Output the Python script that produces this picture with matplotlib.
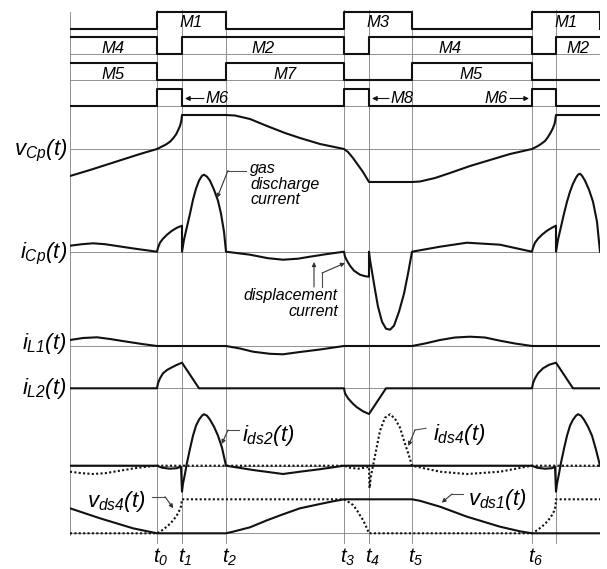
import matplotlib.pyplot as plt
import numpy as np

plt.rcParams['font.family'] = ['Liberation Sans', 'DejaVu Sans']
plt.rcParams['font.style'] = 'italic'
plt.rcParams['mathtext.fontset'] = 'custom'
plt.rcParams['mathtext.it'] = 'Liberation Sans:italic'
plt.rcParams['mathtext.rm'] = 'Liberation Sans:italic'

# switching instants t0..t7 and end of the period (time units)
t_ev = [87, 112, 156, 274, 299, 342, 462, 486]
t_end = 530
t_names = ["t_0", "t_1", "t_2", "t_3", "t_4", "t_5", "t_6", None]

# gate signals: switching times and on/off states (steps-post)
g1_t = [0, 87, 156, 274, 342, 462, 530]
g1_s = [0, 1, 0, 1, 0, 1, 0]
g2_t = [0, 87, 112, 274, 299, 462, 486, 530]
g2_s = [1, 0, 1, 0, 1, 0, 1, 1]
g3_t = [0, 87, 156, 274, 342, 462, 530]
g3_s = [1, 0, 1, 0, 1, 0, 0]
g4_t = [0, 87, 112, 274, 299, 462, 486, 530]
g4_s = [0, 1, 0, 1, 0, 1, 0, 0]

# waveforms as (time, value)
vcp = [(0, -27), (20, -21), (45, -13), (70, -5), (87, 0), (92, 2.5), (96, 4.5),
       (100, 7.3), (103, 10.5), (106, 14.5), (108, 18.5), (110, 23), (111.3, 28),
       (112, 34), (156, 34), (165, 33.5), (180, 30), (197, 23), (215, 16),
       (230, 11), (250, 5), (274, 0), (278, -3), (283, -9), (288, -16),
       (293, -23), (299, -33), (342, -33), (350, -32.5), (365, -29), (380, -24),
       (400, -17), (420, -11), (440, -5), (462, 0), (467, 2.5), (471, 5),
       (475, 8), (478, 12), (481, 17), (483, 21), (484.8, 26), (486, 34), (530, 34)]
icp = [(0, 6), (12, 7.5), (23, 8.4), (35, 7.5), (47, 5.7), (65, 3), (87, 0),
       (88, 4), (90, 9), (93, 13), (97, 17), (102, 21), (107, 24), (112, 26),
       (112, 0), (114, 12), (117, 25), (120, 38), (123, 52), (126, 63), (129, 71),
       (132, 76), (134, 77), (137, 75), (140, 71), (144, 62), (148, 51), (151, 38),
       (154, 20), (156, 0), (180, -3), (198, -6.5), (213, -8), (228, -7),
       (240, -5), (256, -2.5), (274, 0), (275, -5), (277, -9), (280, -14),
       (284, -19), (290, -23), (295, -24.5), (299, -25), (299, 0), (300, -8),
       (302, -20), (305, -38), (308, -55), (312, -70), (316, -77), (320, -78),
       (324, -74), (329, -60), (334, -42), (338, -22), (342, 0), (370, 5),
       (397, 9), (430, 7), (462, 0), (463, 4), (465, 9), (468, 13), (472, 17),
       (477, 21), (482, 24), (486, 26), (486, 0), (488, 12), (491, 25), (494, 38),
       (497, 50), (500, 60), (503, 68), (506, 74), (508, 77), (510, 78),
       (512, 76), (515, 71), (519, 62), (523, 50), (527, 30), (530, 0)]
il1 = [(0, 6), (13, 8), (27, 8.7), (40, 7), (57, 4.3), (72, 2), (87, 0), (156, 0),
       (170, -2.5), (183, -5.7), (200, -7.8), (213, -8.3), (230, -6), (250, -3.5),
       (274, 0), (342, 0), (355, 2.5), (370, 6), (385, 8.5), (400, 9.3),
       (415, 8.5), (430, 5.3), (445, 2.5), (462, 0), (530, 0)]
il2 = [(0, 0), (87, 0), (88, 5), (90, 10), (93, 15), (97, 18.3), (102, 21),
       (107, 23.5), (112, 25.6), (129, 0), (274, 0), (275, -5), (278, -10),
       (283, -15.5), (287, -19), (293, -23), (299, -25.7), (316, 0), (462, 0),
       (463, 5), (465, 10), (468, 15), (473, 20), (479, 23.5), (486, 25.6),
       (503, 0), (530, 0)]
ids2 = [(0, 0), (87, 0), (92, -2), (100, -3), (107, -2.5), (111, -1), (112, -26),
        (113, -18), (115, -8), (117, 3), (120, 17), (123, 30), (126, 40),
        (129, 46), (132, 50), (134, 51.5), (137, 50), (140, 46), (144, 39),
        (148, 30), (152, 18), (156, 0), (183, -4.3), (213, -8.3), (230, -6),
        (250, -3.5), (274, 0), (462, 0), (467, -2), (475, -3), (482, -2.5),
        (485, -1), (486, -26), (487, -18), (489, -8), (491, 3), (494, 17),
        (497, 30), (500, 40), (503, 46), (506, 50), (508, 51.5), (511, 50),
        (514, 46), (518, 39), (522, 30), (526, 16), (530, 0)]
ids4 = [(0, -6), (12, -7.5), (23, -8.3), (35, -7.5), (50, -5), (65, -2.5),
        (77, -1), (87, 0), (274, 0), (280, -2), (288, -3), (295, -2), (299, -1),
        (299.5, -22.4), (301, -10), (303, 0), (306, 15), (310, 35), (315, 48),
        (320, 51.4), (325, 47), (330, 38), (335, 22), (339, 10), (342, 0),
        (370, -6), (397, -8.3), (430, -6), (462, 0), (530, 0)]
vds1 = [(0, 25), (30, 15), (63, 5), (87, 0), (156, 0), (163, 1.6), (180, 6),
        (197, 13), (213, 19), (230, 25), (250, 29.3), (262, 31.8), (274, 34),
        (342, 34), (350, 32.5), (370, 26.6), (397, 16.6), (430, 6.6), (450, 2),
        (462, 0), (530, 0)]
vds4 = [(0, 0), (87, 0), (92, 3), (97, 6.7), (101, 10.5), (104, 14), (107, 18.3),
        (109, 22), (111, 27), (112, 34), (274, 34), (279, 31), (283, 28.3),
        (287, 23), (290, 18), (293, 13.3), (296, 7), (299, 0), (462, 0),
        (467, 3), (472, 6.7), (476, 10.5), (479, 14), (482, 18.3), (484, 22),
        (485.5, 27), (486, 34), (530, 34)]

# vertical position of each trace's zero line (layout)
gate_low = [29, 54, 80, 106]
gate_amp = 17.3
base = dict(vcp=149, icp=251.7, il1=346, il2=388.3, ids=465.7, vds=533.3)

fig = plt.figure(figsize=(6.07, 5.69), dpi=100)
ax = fig.add_axes([70 / 607, 0, 530 / 607, 1])
ax.set_xlim(0, t_end)
ax.set_ylim(569, 0)
ax.axis('off')

grid = dict(color='0.5', lw=0.6, zorder=1)
wave = dict(color='#111111', lw=1.5, zorder=3, solid_joinstyle='round')
dots = dict(color='#111111', lw=1.5, zorder=3, linestyle=(0, (1, 1.1)))

# grid
for t in t_ev:
    ax.plot([t, t], [10, 543], **grid)
ax.plot([0, 0], [12, 535], **grid)
ax.plot([t_end, t_end], [10, 535], **grid)
for y in gate_low[1:] + list(base.values()):
    ax.plot([0, t_end], [y, y], **grid)

# gate signals
for (gt, gs), y0 in zip([(g1_t, g1_s), (g2_t, g2_s), (g3_t, g3_s), (g4_t, g4_s)], gate_low):
    ax.plot(gt, y0 - gate_amp * np.array(gs), drawstyle='steps-post', **wave)


def trace(pts, y0, style):
    t, v = np.array(pts).T
    ax.plot(t, y0 - v, **style)


trace(vcp, base['vcp'], wave)
trace(icp, base['icp'], wave)
trace(il1, base['il1'], wave)
trace(il2, base['il2'], wave)
trace(ids4, base['ids'], dots)
trace(ids2, base['ids'], wave)
trace(vds4, base['vds'], dots)
trace(vds1, base['vds'], wave)

# gate labels
gfs = 12
for s, x, y in [("M1", 121, 22), ("M3", 308, 22), ("M1", 496, 22),
                ("M4", 43, 48.5), ("M2", 193, 48.5), ("M4", 380, 48.5), ("M2", 508, 48.5),
                ("M5", 43, 74), ("M7", 215, 74), ("M5", 401, 74)]:
    ax.text(x, y, s, ha='center', va='center', fontsize=gfs)
gate_arrow = dict(arrowstyle='-|>', lw=0.8, color='#111111', mutation_scale=7,
                  shrinkA=0, shrinkB=0)
ax.text(135, 98.5, "M6", ha='left', va='center', fontsize=gfs)
ax.annotate("", xy=(115, 98.5), xytext=(134, 98.5), arrowprops=gate_arrow)
ax.text(320, 98.5, "M8", ha='left', va='center', fontsize=gfs)
ax.annotate("", xy=(302, 98.5), xytext=(319, 98.5), arrowprops=gate_arrow)
ax.text(438, 98.5, "M6", ha='right', va='center', fontsize=gfs)
ax.annotate("", xy=(459, 98.5), xytext=(440, 98.5), arrowprops=gate_arrow)

# trace labels
lfs = 16
ax.text(-3, 151, r'$v_{Cp}(t)$', ha='right', va='center', fontsize=lfs)
ax.text(-3, 254, r'$i_{Cp}(t)$', ha='right', va='center', fontsize=lfs)
ax.text(-3, 343, r'$i_{L1}(t)$', ha='right', va='center', fontsize=lfs)
ax.text(-3, 388, r'$i_{L2}(t)$', ha='right', va='center', fontsize=lfs)
ax.text(172, 435, r'$i_{ds2}(t)$', ha='left', va='center', fontsize=lfs)
ax.text(363, 434, r'$i_{ds4}(t)$', ha='left', va='center', fontsize=lfs)
ax.text(398, 500, r'$v_{ds1}(t)$', ha='left', va='center', fontsize=lfs)
ax.text(17, 501, r'$v_{ds4}(t)$', ha='left', va='center', fontsize=lfs)

for t, name in zip(t_ev, t_names):
    if name:
        ax.text(t - 4, 557, '$' + name + '$', ha='left', va='center', fontsize=14.5)

# annotations
afs = 11.5
ax.text(180, 161, "gas\ndischarge\ncurrent", ha='left', va='top', fontsize=afs,
        linespacing=1.05)
ax.text(268, 288, "displacement\ncurrent", ha='right', va='top', fontsize=afs,
        linespacing=1.1, multialignment='right')

lead = dict(color='0.3', lw=0.8, zorder=4)
arr = dict(arrowstyle='-|>', lw=0.8, color='0.2', mutation_scale=6, shrinkA=0, shrinkB=0)


def leader(pts):
    p = np.array(pts)
    ax.plot(p[:-1, 0], p[:-1, 1], **lead)
    ax.annotate("", xy=p[-1], xytext=p[-2], arrowprops=arr, zorder=4)


leader([(176, 170.5), (158, 170.5), (147, 198)])
leader([(244, 287), (244, 262)])
leader([(252, 287), (252, 273), (275, 263)])
leader([(169, 430), (158, 430), (151.7, 444)])
leader([(356, 428.3), (345, 430), (338.3, 446)])
leader([(393, 494), (382, 494), (371.7, 502.7)])
leader([(81.7, 496.7), (95, 496.7), (103.3, 508.3)])

plt.savefig("out.png", dpi=100)
